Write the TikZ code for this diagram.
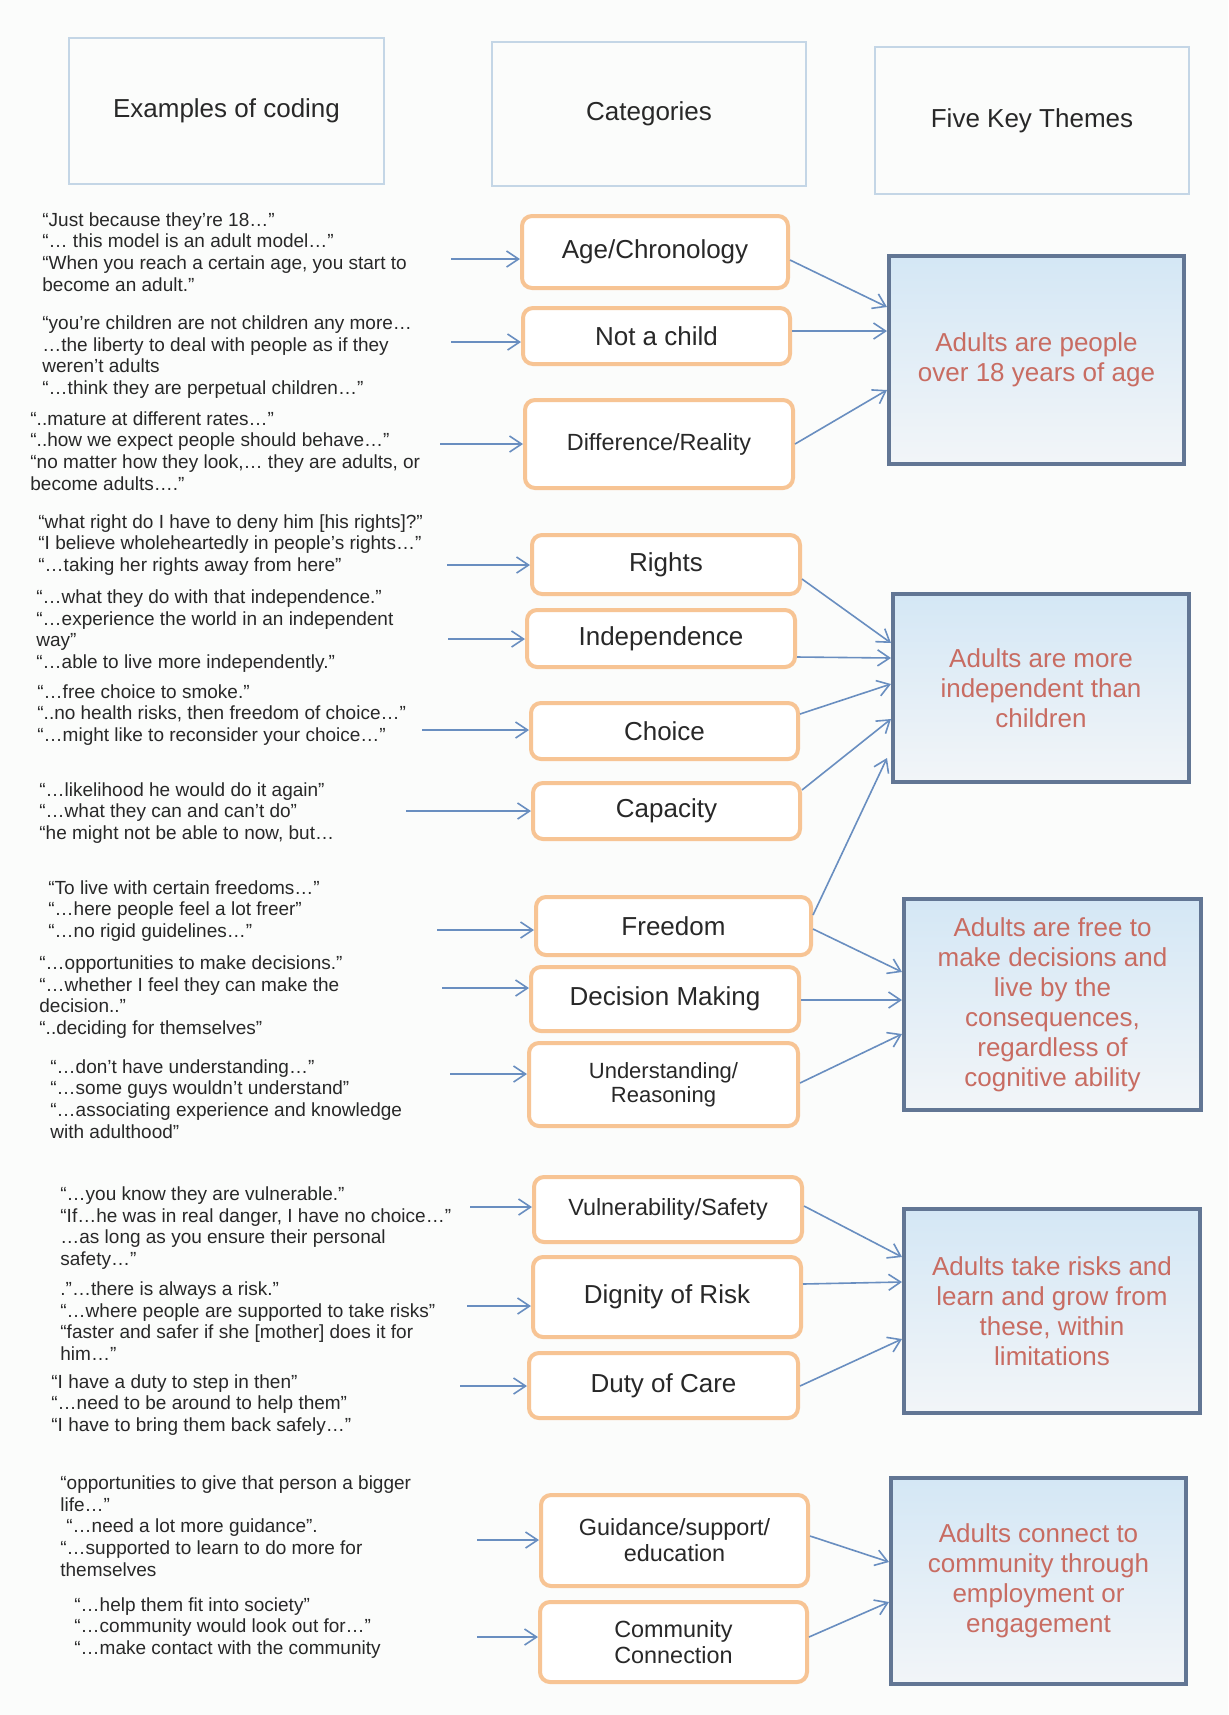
\documentclass[tikz,border=0pt]{standalone}
\usepackage{fontspec}
\setmainfont{Liberation Sans}
\usetikzlibrary{arrows.meta}

\definecolor{ink}{RGB}{40,40,40}
\definecolor{arrowblue}{RGB}{105,142,192}
\definecolor{catline}{RGB}{247,196,148}
\definecolor{headline}{RGB}{196,214,230}
\definecolor{themeline}{RGB}{98,118,148}
\definecolor{themetop}{RGB}{212,231,245}
\definecolor{themebot}{RGB}{242,245,248}
\definecolor{themetext}{RGB}{200,108,98}
\definecolor{paper}{RGB}{251,252,251}

\begin{document}
\begin{tikzpicture}[x=0.5pt,y=-0.5pt,
  % a box given by its left, top, right and bottom edges
  span/.style n args={4}{at={({(#1+#3)/2},{(#2+#4)/2})},
    minimum width={(#3-#1)*0.5pt}, minimum height={(#4-#2)*0.5pt}},
  header/.style={draw=headline, line width=1.2pt, inner sep=0pt, text=ink,
    font=\fontsize{13}{15}\selectfont},
  category/.style={draw=catline, line width=2pt, rounded corners=5pt, fill=white,
    inner sep=0pt, align=center, text=ink, font=\fontsize{13}{15}\selectfont},
  smallcat/.style={category, font=\fontsize{11.7}{13}\selectfont},
  theme/.style={draw=themeline, line width=2pt, top color=themetop, bottom color=themebot,
    inner sep=0pt, align=center, text=themetext, font=\fontsize{13}{15}\selectfont},
  sample/.style={anchor=west, align=left, inner sep=0pt, text=ink,
    font=\fontsize{9.5}{10.9}\selectfont},
  feed/.style={draw=arrowblue, line width=0.8pt, -{Straight Barb[length=6pt,width=8pt]}},
]
\fill[paper] (0,0) rectangle (1228,1715);
\useasboundingbox (0,0) rectangle (1228,1715);

% column headings
\node[header, span={69}{38}{384}{184}] (hcode) {Examples of coding};
\node[header, span={492}{42}{806}{186}] (hcat) {Categories};
\node[header, span={875}{47}{1189}{194}] (htheme) {Five Key Themes};

% categories
\node[category, span={522}{216}{788}{288}] (age) {Age/Chronology};
\node[category, span={523}{308}{790}{364}] (child) {Not a child};
\node[smallcat, span={525}{400}{793}{488}] (diff) {Difference/Reality};
\node[category, span={532}{535}{800}{594}] (rights) {Rights};
\node[category, span={527}{610}{795}{667}] (indep) {Independence};
\node[category, span={531}{703}{798}{759}] (choice) {Choice};
\node[category, span={533}{783}{800}{839}] (capacity) {Capacity};
\node[category, span={536}{897}{811}{955}] (freedom) {Freedom};
\node[category, span={531}{967}{799}{1031}] (decision) {Decision Making};
\node[category, font=\fontsize{11}{12}\selectfont, span={529}{1043}{798}{1126}] (reason) {Understanding/\\Reasoning};
\node[smallcat, span={534}{1177}{802}{1242}] (vuln) {Vulnerability/Safety};
\node[category, span={533}{1257}{801}{1337}] (risk) {Dignity of Risk};
\node[category, span={529}{1353}{798}{1418}] (duty) {Duty of Care};
\node[smallcat, span={541}{1495}{808}{1586}] (guide) {Guidance/support/\\education};
\node[smallcat, span={540}{1602}{807}{1682}] (community) {Community\\Connection};

% themes
\node[theme, span={889}{256}{1184}{464}] (t1) {Adults are people\\over 18 years of age};
\node[theme, span={893}{594}{1189}{782}] (t2) {Adults are more\\independent than\\children};
\node[theme, span={904}{899}{1201}{1110}] (t3) {Adults are free to\\make decisions and\\live by the\\consequences,\\regardless of\\cognitive ability};
\node[theme, span={904}{1209}{1200}{1413}] (t4) {Adults take risks and\\learn and grow from\\these, within\\limitations};
\node[theme, span={891}{1478}{1186}{1684}] (t5) {Adults connect to\\community through\\employment or\\engagement};

% coded quotations
\node[sample] (q1) at (42,252) {“Just because they’re 18…”\\“… this model is an adult model…”\\“When you reach a certain age, you start to\\become an adult.”};
\node[sample] (q2) at (42,357) {“you’re children are not children any more…\\…the liberty to deal with people as if they\\weren’t adults\\“…think they are perpetual children…”};
\node[sample] (q3) at (30,451) {“..mature at different rates…”\\“..how we expect people should behave…”\\“no matter how they look,… they are adults, or\\become adults….”};
\node[sample] (q4) at (38,545) {“what right do I have to deny him [his rights]?”\\“I believe wholeheartedly in people’s rights…”\\“…taking her rights away from here”};
\node[sample] (q5) at (36,631) {“…what they do with that independence.”\\“…experience the world in an independent\\way”\\“…able to live more independently.”};
\node[sample] (q6) at (37,715) {“…free choice to smoke.”\\“..no health risks, then freedom of choice…”\\“…might like to reconsider your choice…”};
\node[sample] (q7) at (39,813) {“…likelihood he would do it again”\\“…what they can and can’t do”\\“he might not be able to now, but…};
\node[sample] (q8) at (48,911) {“To live with certain freedoms…”\\“…here people feel a lot freer”\\“…no rigid guidelines…”};
\node[sample] (q9) at (39,997) {“…opportunities to make decisions.”\\“…whether I feel they can make the\\decision..”\\“..deciding for themselves”};
\node[sample] (q10) at (50,1099) {“…don’t have understanding…”\\“…some guys wouldn’t understand”\\“…associating experience and knowledge\\with adulthood”};
\node[sample] (q11) at (60,1228) {“…you know they are vulnerable.”\\“If…he was in real danger, I have no choice…”\\…as long as you ensure their personal\\safety…”};
\node[sample] (q12) at (60,1321) {.”…there is always a risk.”\\“…where people are supported to take risks”\\“faster and safer if she [mother] does it for\\him…”};
\node[sample] (q13) at (51,1405) {“I have a duty to step in then”\\“…need to be around to help them”\\“I have to bring them back safely…”};
\node[sample] (q14) at (60,1526) {“opportunities to give that person a bigger\\life…”\\\hspace{3pt}“…need a lot more guidance”.\\“…supported to learn to do more for\\themselves};
\node[sample] (q15) at (74,1628) {“…help them fit into society”\\“…community would look out for…”\\“…make contact with the community};

% loose ends of the quotation arrows
\coordinate (s1) at (451,259);
\coordinate (s2) at (451,342);
\coordinate (s3) at (440,444);
\coordinate (s4) at (447,565);
\coordinate (s5) at (448,639);
\coordinate (s6) at (422,730);
\coordinate (s7) at (406,811);
\coordinate (s8) at (437,930);
\coordinate (s9) at (442,988);
\coordinate (s10) at (450,1074);
\coordinate (s11) at (470,1207);
\coordinate (s12) at (467,1306);
\coordinate (s13) at (460,1386);
\coordinate (s14) at (477,1540);
\coordinate (s15) at (477,1637);

% quotations -> categories
\draw[feed] (s1) -- (s1 -| age.west);
\draw[feed] (s2) -- (s2 -| child.west);
\draw[feed] (s3) -- (s3 -| diff.west);
\draw[feed] (s4) -- (s4 -| rights.west);
\draw[feed] (s5) -- (s5 -| indep.west);
\draw[feed] (s6) -- (s6 -| choice.west);
\draw[feed] (s7) -- (s7 -| capacity.west);
\draw[feed] (s8) -- (s8 -| freedom.west);
\draw[feed] (s9) -- (s9 -| decision.west);
\draw[feed] (s10) -- (s10 -| reason.west);
\draw[feed] (s11) -- (s11 -| vuln.west);
\draw[feed] (s12) -- (s12 -| risk.west);
\draw[feed] (s13) -- (s13 -| duty.west);
\draw[feed] (s14) -- (s14 -| guide.west);
\draw[feed] (s15) -- (s15 -| community.west);

% categories -> themes
\draw[feed] (age.east |- 0,260) -- (t1.west |- 0,307);
\draw[feed] (child.east |- 0,331) -- (t1.west |- 0,331);
\draw[feed] (diff.east |- 0,444) -- (t1.west |- 0,390);
\draw[feed] (rights.east |- 0,579) -- (t2.west |- 0,643);
\draw[feed] (indep.east |- 0,657) -- (t2.west |- 0,658);
\draw[feed] (choice.east |- 0,714) -- (t2.west |- 0,684);
\draw[feed] (capacity.east |- 0,790) -- (t2.west |- 0,719);
\draw[feed] (freedom.east |- 0,915) -- ([xshift=-2pt]t2.west |- 0,758);
\draw[feed] (freedom.east |- 0,929) -- (t3.west |- 0,972);
\draw[feed] (decision.east |- 0,1000) -- (t3.west |- 0,1000);
\draw[feed] (reason.east |- 0,1083) -- (t3.west |- 0,1034);
\draw[feed] (vuln.east |- 0,1206) -- (t4.west |- 0,1257);
\draw[feed] (risk.east |- 0,1284) -- (t4.west |- 0,1282);
\draw[feed] (duty.east |- 0,1386) -- (t4.west |- 0,1339);
\draw[feed] (guide.east |- 0,1536) -- (t5.west |- 0,1562);
\draw[feed] (community.east |- 0,1637) -- (t5.west |- 0,1602);
\end{tikzpicture}
\end{document}
